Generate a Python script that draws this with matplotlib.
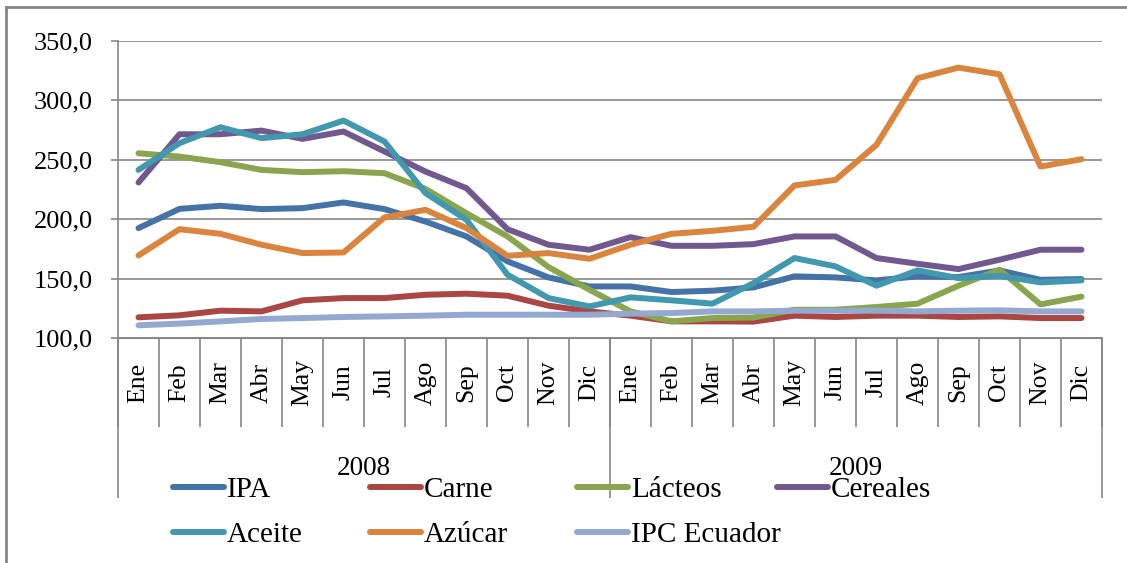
import matplotlib
matplotlib.use('Agg')
import matplotlib.pyplot as plt
from matplotlib.lines import Line2D
from matplotlib.ticker import FuncFormatter

plt.rcParams['font.family'] = ['Liberation Serif', 'DejaVu Serif']

meses = ['Ene', 'Feb', 'Mar', 'Abr', 'May', 'Jun', 'Jul', 'Ago', 'Sep', 'Oct', 'Nov', 'Dic'] * 2
anios = ['2008', '2009']

ipa = [192.5, 208.7, 211.3, 208.5, 209.3, 214.1, 208.5, 198.0, 185.5, 164.5, 151.0, 143.4,
       143.4, 138.7, 139.8, 142.6, 151.9, 151.0, 148.5, 151.9, 151.3, 156.9, 149.0, 149.6]
carne = [117.4, 119.1, 123.0, 122.4, 131.7, 133.6, 133.6, 136.4, 137.3, 135.6, 127.2, 122.4,
         118.8, 114.0, 114.0, 113.8, 118.8, 117.7, 118.8, 118.8, 117.7, 118.2, 116.8, 116.8]
lacteos = [255.5, 252.7, 248.0, 241.5, 239.6, 240.4, 238.7, 225.5, 205.0, 185.5, 159.7, 140.6,
           122.4, 114.0, 116.8, 117.2, 123.8, 123.8, 126.1, 128.9, 144.0, 157.5, 128.3, 134.8]
cereales = [230.9, 271.5, 271.5, 274.6, 267.6, 273.8, 257.0, 240.1, 226.1, 191.6, 178.5, 174.3,
            184.9, 177.6, 177.6, 179.0, 185.5, 185.5, 167.3, 162.5, 158.0, 165.9, 174.3, 174.3]
aceite = [241.5, 264.0, 277.4, 268.2, 271.5, 283.0, 265.4, 222.0, 199.5, 153.3, 133.6, 126.6,
          134.2, 131.7, 128.9, 146.2, 167.3, 160.3, 144.0, 156.9, 150.4, 152.4, 146.8, 148.5]
azucar = [169.5, 191.6, 187.7, 178.5, 171.5, 172.0, 201.5, 207.9, 192.5, 169.2, 171.5, 166.7,
          178.5, 187.7, 190.2, 193.6, 228.4, 233.1, 262.6, 318.6, 327.6, 322.0, 244.3, 250.5]
ipc = [110.7, 112.1, 114.0, 116.0, 116.8, 117.7, 118.2, 118.8, 119.6, 119.6, 119.6, 119.6,
       120.5, 121.0, 122.4, 122.4, 123.0, 123.0, 123.0, 122.4, 123.0, 123.3, 122.4, 122.4]

series = [('IPA', ipa, '#4572A7'), ('Carne', carne, '#AA4643'), ('Lácteos', lacteos, '#89A54E'),
          ('Cereales', cereales, '#71588F'), ('Aceite', aceite, '#4198AF'),
          ('Azúcar', azucar, '#DB843D'), ('IPC Ecuador', ipc, '#93A9CF')]

gris = '#868686'
W, H = 1127, 563

fig = plt.figure(figsize=(W / 100, H / 100), dpi=100)
ax = fig.add_axes([118 / W, 1 - 338 / H, (1102 - 118) / W, (338 - 41) / H])

x = list(range(len(meses)))
lineas = []
for nombre, valores, color in series:
    l, = ax.plot(x, valores, color=color, lw=4.3, label=nombre, solid_capstyle='round',
                 solid_joinstyle='round', zorder=3)
    lineas.append(l)

ax.set_xlim(-0.5, len(meses) - 0.5)
ax.set_ylim(100, 350)
ax.set_yticks(range(100, 351, 50))
ax.yaxis.set_major_formatter(FuncFormatter(lambda v, p: f'{v:.1f}'.replace('.', ',')))
ax.grid(axis='y', color=gris, lw=1.2)
ax.set_axisbelow(True)
ax.tick_params(axis='y', length=5, color=gris, width=1.2, labelsize=19, pad=13)

for s in ['top', 'right']:
    ax.spines[s].set_visible(False)
for s in ['left', 'bottom']:
    ax.spines[s].set_color(gris)
    ax.spines[s].set_linewidth(1.2)

# meses
ax.set_xticks(x, meses, rotation=90)
ax.set_xticks([i - 0.5 for i in range(len(meses) + 1)], minor=True)
ax.tick_params(axis='x', which='major', length=0, labelsize=18.5, pad=32)
ax.tick_params(axis='x', which='minor', length=64, color=gris, width=1.2)
plt.setp(ax.get_xticklabels(), va='center')

# años
sec = ax.secondary_xaxis('bottom')
sec.set_xticks([-0.5, 11.5, 23.5], ['', '', ''])
sec.set_xticks([5.5, 17.5], anios, minor=True)
sec.tick_params(which='major', length=115, color=gris, width=1.2)
sec.tick_params(which='minor', length=0, labelsize=19.5, pad=85)
sec.spines['bottom'].set_color(gris)

# leyenda en columnas
columnas = [[0, 4], [1, 5], [2, 6], [3]]
xs = [173, 370, 577, 777]
for cols, xc in zip(columnas, xs):
    fig.legend([lineas[i] for i in cols], [series[i][0] for i in cols], loc='upper left',
               bbox_to_anchor=(xc / W, 1 - 477 / H), frameon=False, fontsize=21,
               handlelength=1.75, handletextpad=0.1, borderpad=0, borderaxespad=0,
               labelspacing=0.62)

# marco
fig.add_artist(Line2D([6 / W, 6 / W], [0, 1 - 7 / H], color=gris, lw=2))
fig.add_artist(Line2D([6 / W, 1], [1 - 7 / H, 1 - 7 / H], color=gris, lw=2))

fig.savefig('out.png', dpi=100)
